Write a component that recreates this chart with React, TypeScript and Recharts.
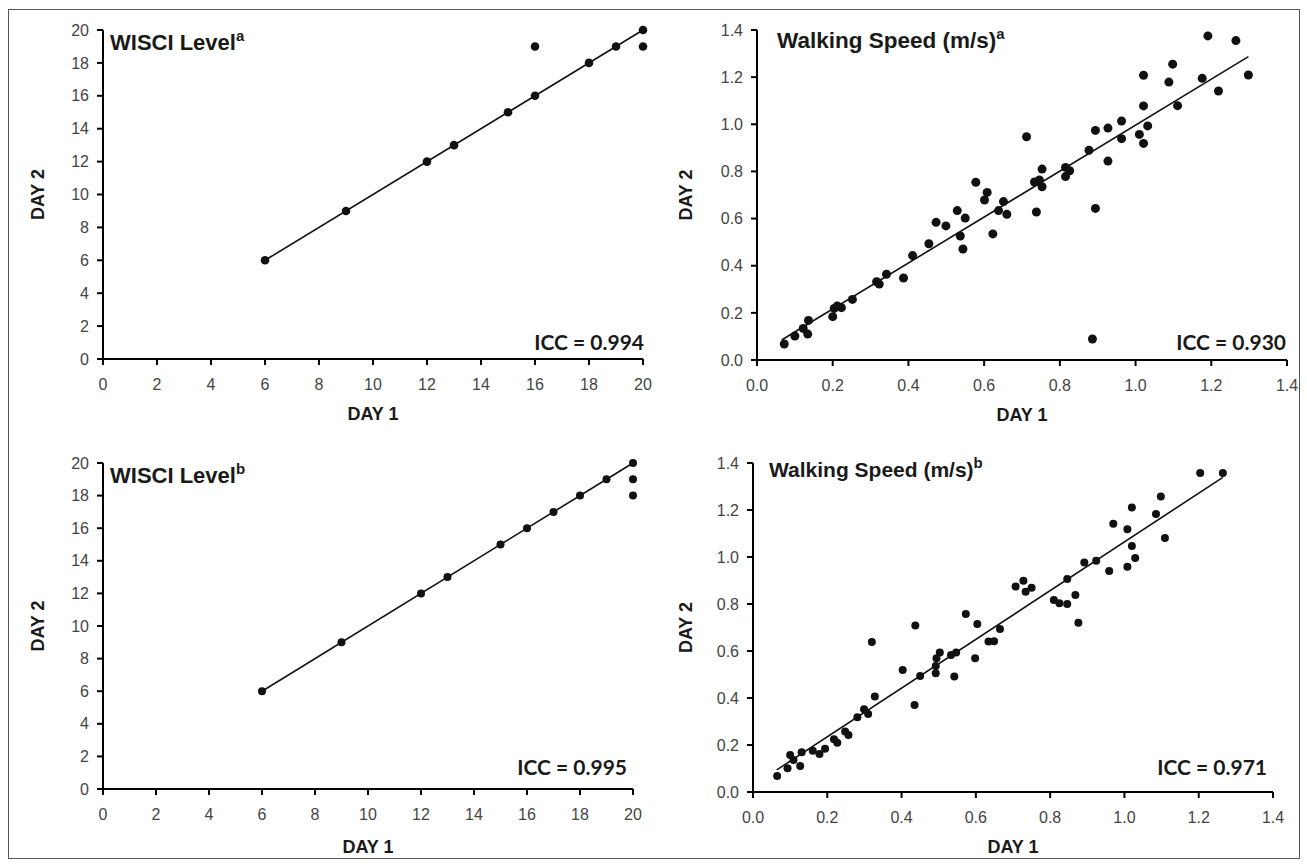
import { Scatter, ScatterChart, XAxis, YAxis } from 'recharts'

const W = 1307
const H = 865
const FONT = '"Liberation Sans", Arial, sans-serif'
const ICC_FONT = 'Lato, "Liberation Sans", sans-serif'

// WISCI level, day 1 vs day 2
const wisciTicks = [0, 2, 4, 6, 8, 10, 12, 14, 16, 18, 20]
const wisciA_day1 = [6, 9, 12, 13, 15, 16, 16, 18, 19, 20, 20]
const wisciA_day2 = [6, 9, 12, 13, 15, 16, 19, 18, 19, 20, 19]
const wisciB_day1 = [6, 9, 12, 13, 15, 16, 17, 18, 19, 20, 20, 20]
const wisciB_day2 = [6, 9, 12, 13, 15, 16, 17, 18, 19, 20, 19, 18]
const wisciFit_day1 = [6, 20]
const wisciFit_day2 = [6, 20]

// walking speed (m/s)
const speedTicks = [0, 0.2, 0.4, 0.6, 0.8, 1.0, 1.2, 1.4]
const speedA_day1 = [
  0.072, 0.1, 0.122, 0.134, 0.136, 0.2, 0.204, 0.212, 0.223, 0.252, 0.316, 0.323, 0.342, 0.387, 0.411,
  0.454, 0.473, 0.499, 0.529, 0.537, 0.544, 0.55, 0.578, 0.601, 0.608, 0.623, 0.638, 0.651, 0.66, 0.712,
  0.733, 0.738, 0.746, 0.753, 0.753, 0.815, 0.826, 0.815, 0.877, 0.886, 0.894, 0.894, 0.927, 0.927, 0.963,
  0.963, 1.01, 1.021, 1.021, 1.021, 1.032, 1.088, 1.098, 1.111, 1.176, 1.191, 1.219, 1.265, 1.298,
]
const speedA_day2 = [
  0.068, 0.102, 0.134, 0.11, 0.168, 0.184, 0.219, 0.229, 0.222, 0.257, 0.332, 0.322, 0.364, 0.348, 0.443,
  0.493, 0.584, 0.569, 0.634, 0.526, 0.471, 0.602, 0.754, 0.679, 0.711, 0.535, 0.634, 0.672, 0.618, 0.947,
  0.755, 0.628, 0.764, 0.81, 0.735, 0.817, 0.803, 0.778, 0.89, 0.089, 0.974, 0.643, 0.984, 0.844, 1.014,
  0.939, 0.957, 1.208, 1.078, 0.919, 0.993, 1.179, 1.255, 1.079, 1.195, 1.375, 1.141, 1.355, 1.209,
]
const speedAFit_day1 = [0.065, 1.298]
const speedAFit_day2 = [0.085, 1.287]

const speedB_day1 = [
  0.065, 0.093, 0.1, 0.109, 0.127, 0.131, 0.161, 0.179, 0.194, 0.218, 0.227, 0.248, 0.257, 0.281, 0.299,
  0.31, 0.32, 0.328, 0.403, 0.435, 0.437, 0.45, 0.492, 0.492, 0.494, 0.503, 0.533, 0.542, 0.547, 0.573,
  0.598, 0.604, 0.634, 0.649, 0.665, 0.707, 0.728, 0.734, 0.75, 0.81, 0.825, 0.846, 0.846, 0.868, 0.876,
  0.892, 0.924, 0.959, 0.97, 1.008, 1.008, 1.02, 1.02, 1.029, 1.085, 1.098, 1.109, 1.204, 1.265,
]
const speedB_day2 = [
  0.068, 0.101, 0.157, 0.136, 0.111, 0.169, 0.176, 0.162, 0.184, 0.224, 0.21, 0.257, 0.243, 0.318, 0.352,
  0.332, 0.638, 0.406, 0.519, 0.37, 0.708, 0.494, 0.505, 0.536, 0.569, 0.594, 0.583, 0.491, 0.594, 0.757,
  0.569, 0.715, 0.64, 0.641, 0.694, 0.874, 0.899, 0.852, 0.869, 0.817, 0.803, 0.8, 0.906, 0.838, 0.72,
  0.977, 0.984, 0.94, 1.142, 1.118, 0.959, 1.211, 1.047, 0.996, 1.183, 1.257, 1.081, 1.357, 1.357,
]
const speedBFit_day1 = [0.064, 1.265]
const speedBFit_day2 = [0.094, 1.339]

type Plot = { left: number; top: number; right: number; bottom: number }

type PanelProps = {
  day1: number[]
  day2: number[]
  fit1: number[]
  fit2: number[]
  plot: Plot
  ticks: number[]
  decimals: number
  yLabelOffset: number
  xLabelOffset: number
  dotR: number
}

function Panel({ day1, day2, fit1, fit2, plot, ticks, decimals, yLabelOffset, xLabelOffset, dotR }: PanelProps) {
  const points = day1.map((x, i) => ({ x, y: day2[i] }))
  const fit = fit1.map((x, i) => ({ x, y: fit2[i] }))
  const domain: [number, number] = [ticks[0], ticks[ticks.length - 1]]
  const fmt = (v: number) => v.toFixed(decimals)
  const tickStyle = { fill: '#444', fontSize: 16, fontFamily: FONT }
  const labelStyle = { fontFamily: FONT, fontSize: 18, fontWeight: 700, fill: '#1a1a1a' }

  return (
    <div style={{ position: 'absolute', left: 0, top: 0 }}>
      <ScatterChart
        width={W}
        height={H}
        margin={{ left: plot.left - 60, top: plot.top, right: W - plot.right, bottom: H - plot.bottom - 30 }}
      >
        <XAxis
          type="number"
          dataKey="x"
          domain={domain}
          ticks={ticks}
          interval={0}
          tickFormatter={fmt}
          height={30}
          tickSize={6}
          tickMargin={14}
          tick={tickStyle}
          axisLine={{ stroke: '#000', strokeWidth: 2 }}
          tickLine={{ stroke: '#000', strokeWidth: 2 }}
          label={{ value: 'DAY 1', position: 'bottom', offset: xLabelOffset, style: labelStyle }}
        />
        <YAxis
          type="number"
          dataKey="y"
          domain={domain}
          ticks={ticks}
          interval={0}
          tickFormatter={fmt}
          width={60}
          tickSize={6}
          tickMargin={8}
          tick={tickStyle}
          axisLine={{ stroke: '#000', strokeWidth: 2 }}
          tickLine={{ stroke: '#000', strokeWidth: 2 }}
          label={{
            value: 'DAY 2',
            angle: -90,
            position: 'left',
            offset: yLabelOffset,
            style: { ...labelStyle, textAnchor: 'middle' },
          }}
        />
        <Scatter
          data={fit}
          line={{ stroke: '#111', strokeWidth: 1.6 }}
          shape={() => <g />}
          isAnimationActive={false}
        />
        <Scatter
          data={points}
          fill="#111"
          shape={(s: any) => <circle cx={s.cx} cy={s.cy} r={dotR} fill="#111" />}
          isAnimationActive={false}
        />
      </ScatterChart>
    </div>
  )
}

function Title({ x, y, size, text, sup }: { x: number; y: number; size: number; text: string; sup: string }) {
  return (
    <text x={x} y={y} fontFamily={FONT} fontWeight={700} fontSize={size} fill="#1a1a1a">
      {text}
      <tspan dy={-9} fontSize={15}>
        {sup}
      </tspan>
    </text>
  )
}

function Icc({ x, y, text }: { x: number; y: number; text: string }) {
  return (
    <text x={x} y={y} textAnchor="end" fontFamily={ICC_FONT} fontWeight={700} fontSize={21} fill="#1a1a1a">
      {text}
    </text>
  )
}

export default function App() {
  return (
    <div style={{ position: 'absolute', left: 0, top: 0, width: W, height: H, background: '#fff' }}>
      <div
        style={{
          position: 'absolute',
          left: 8,
          top: 9,
          width: 1292,
          height: 850,
          border: '1.5px solid #555',
          boxSizing: 'border-box',
        }}
      />
      <Panel
        day1={wisciA_day1}
        day2={wisciA_day2}
        fit1={wisciFit_day1}
        fit2={wisciFit_day2}
        plot={{ left: 103, top: 30, right: 643, bottom: 359 }}
        ticks={wisciTicks}
        decimals={0}
        yLabelOffset={5}
        xLabelOffset={18}
        dotR={4.3}
      />
      <Panel
        day1={speedA_day1}
        day2={speedA_day2}
        fit1={speedAFit_day1}
        fit2={speedAFit_day2}
        plot={{ left: 757, top: 30, right: 1287, bottom: 360 }}
        ticks={speedTicks}
        decimals={1}
        yLabelOffset={11}
        xLabelOffset={18}
        dotR={4.5}
      />
      <Panel
        day1={wisciB_day1}
        day2={wisciB_day2}
        fit1={wisciFit_day1}
        fit2={wisciFit_day2}
        plot={{ left: 103, top: 463, right: 633, bottom: 789 }}
        ticks={wisciTicks}
        decimals={0}
        yLabelOffset={5}
        xLabelOffset={21}
        dotR={4}
      />
      <Panel
        day1={speedB_day1}
        day2={speedB_day2}
        fit1={speedBFit_day1}
        fit2={speedBFit_day2}
        plot={{ left: 753, top: 463, right: 1273, bottom: 792 }}
        ticks={speedTicks}
        decimals={1}
        yLabelOffset={7}
        xLabelOffset={18}
        dotR={4}
      />
      <svg width={W} height={H} style={{ position: 'absolute', left: 0, top: 0, pointerEvents: 'none' }}>
        <Title x={110} y={50} size={22} text="WISCI Level" sup="a" />
        <Title x={777} y={48} size={22.5} text="Walking Speed (m/s)" sup="a" />
        <Title x={110} y={483} size={22} text="WISCI Level" sup="b" />
        <Title x={769} y={477} size={21} text="Walking Speed (m/s)" sup="b" />
        <Icc x={644} y={350} text="ICC = 0.994" />
        <Icc x={1286} y={350} text="ICC = 0.930" />
        <Icc x={627} y={775} text="ICC = 0.995" />
        <Icc x={1267} y={775} text="ICC = 0.971" />
      </svg>
    </div>
  )
}
